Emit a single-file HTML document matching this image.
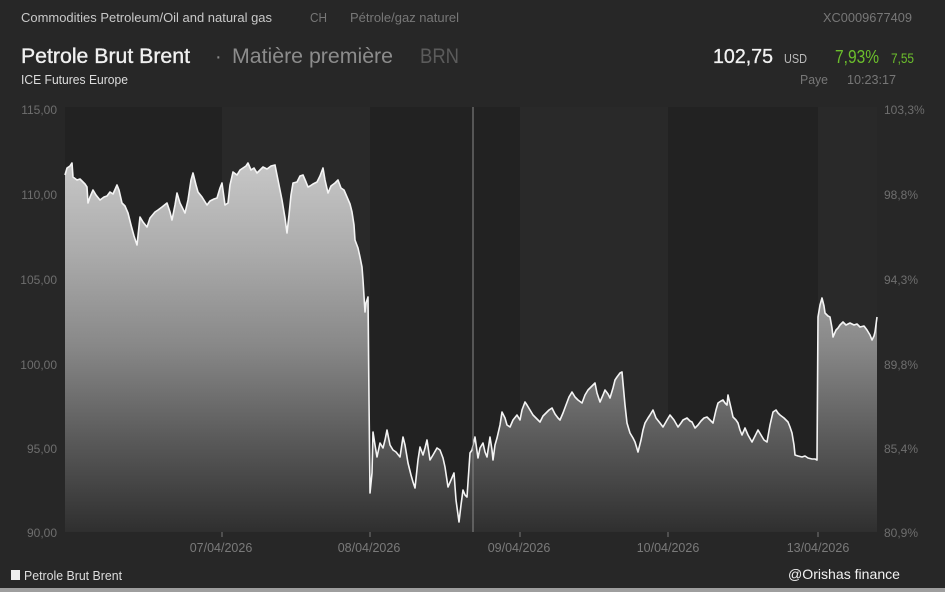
<!DOCTYPE html>
<html>
<head>
<meta charset="utf-8">
<style>
  html,body{margin:0;padding:0;background:#272727;}
  body{width:945px;height:592px;overflow:hidden;}
  svg{display:block;}
  text{font-family:"Liberation Sans",Arial,sans-serif;}
</style>
</head>
<body>
<svg width="945" height="592" viewBox="0 0 945 592" xmlns="http://www.w3.org/2000/svg">
  <defs>
    <linearGradient id="fillg" gradientUnits="userSpaceOnUse" x1="0" y1="160" x2="0" y2="532">
      <stop offset="0" stop-color="#c8c8c8"/>
      <stop offset="0.25" stop-color="#ababab"/>
      <stop offset="0.5" stop-color="#888888"/>
      <stop offset="0.75" stop-color="#5a5a5a"/>
      <stop offset="1" stop-color="#2f2f2f"/>
    </linearGradient>
  </defs>
  <rect x="0" y="0" width="945" height="592" fill="#272727"/>

  <!-- day bands -->
  <rect x="65" y="107" width="157" height="425" fill="#222222"/>
  <rect x="222" y="107" width="148" height="425" fill="#292929"/>
  <rect x="370" y="107" width="150" height="425" fill="#222222"/>
  <rect x="520" y="107" width="148" height="425" fill="#292929"/>
  <rect x="668" y="107" width="150" height="425" fill="#222222"/>
  <rect x="818" y="107" width="59" height="425" fill="#292929"/>

  <!-- area fill -->
  <polygon fill="url(#fillg)" points="65,532 65,175 67,168 70,166 72,163 73,177 77,180 80,179 83,182 85,184 87,187 88,203 90,197 93,190 96,195 100,200 104,197 107,196 110,192 113,194 117,185 119,190 122,203 125,206 128,213 131,225 134,236 137,245 140,217 143,222 147,227 150,218 155,212 158,210 162,207 167,203 170,212 172,220 175,205 177,193 180,203 185,213 188,200 191,180 193,173 196,185 198,192 202,197 207,205 210,201 214,199 217,198 220,188 222,183 225,205 228,203 230,185 233,172 237,175 240,170 243,168 246,166 248,163 251,170 254,168 257,173 260,170 263,167 267,169 271,166 275,165 278,180 280,190 282,200 285,218 287,233 289,215 291,195 293,183 297,182 300,176 303,175 306,182 308,187 310,186 313,184 317,182 320,176 323,168 325,180 328,193 331,186 335,183 338,180 341,188 344,190 347,197 350,204 352,212 354,225 355,240 358,248 360,257 362,267 363,280 365,312 366,303 368,297 369,400 370,493 372,473 373,432 375,445 377,457 380,443 383,448 385,440 387,430 390,445 393,450 396,452 400,457 403,437 405,445 408,463 411,475 413,482 415,488 418,460 420,447 423,455 425,448 427,440 430,460 433,455 437,448 440,450 443,458 445,467 448,487 451,480 454,473 456,500 459,522 461,505 463,490 465,495 467,497 470,453 472,450 475,437 478,458 480,448 483,443 485,452 487,457 490,437 492,450 493,460 495,445 497,438 500,425 502,412 505,418 507,425 510,427 513,420 517,415 520,420 522,410 525,402 527,405 530,410 533,415 536,418 540,422 543,416 546,413 549,410 552,408 555,414 558,418 560,420 563,413 566,405 569,397 572,392 575,397 578,400 582,403 585,395 588,390 592,386 595,383 597,393 600,402 603,395 605,390 608,394 610,398 613,388 615,380 617,377 620,373 622,372 623,383 625,405 627,423 630,433 633,438 635,442 638,452 641,440 643,430 645,423 648,418 650,415 653,410 656,418 660,423 663,427 667,420 670,415 674,420 678,427 681,423 683,420 687,418 690,421 692,422 695,428 698,425 701,421 704,418 707,417 710,420 713,423 716,410 718,403 721,401 723,400 725,403 727,405 728,395 731,408 733,417 736,420 738,423 740,430 742,435 745,428 748,435 752,442 755,436 758,430 761,435 764,440 767,442 770,425 773,412 776,410 778,413 780,415 784,418 788,422 790,427 792,433 794,445 795,455 798,456 802,457 805,456 808,458 812,459 815,459 817,460 818,317 820,305 822,298 824,306 825,313 828,316 830,317 832,328 833,337 836,330 838,328 840,325 843,322 846,325 850,323 854,325 857,324 860,327 864,326 867,330 870,335 872,340 874,336 875,332 877,317 877,532"/>

  <!-- line -->
  <polyline fill="none" stroke="#f4f4f4" stroke-width="1.6" stroke-linejoin="round" points="65,175 67,168 70,166 72,163 73,177 77,180 80,179 83,182 85,184 87,187 88,203 90,197 93,190 96,195 100,200 104,197 107,196 110,192 113,194 117,185 119,190 122,203 125,206 128,213 131,225 134,236 137,245 140,217 143,222 147,227 150,218 155,212 158,210 162,207 167,203 170,212 172,220 175,205 177,193 180,203 185,213 188,200 191,180 193,173 196,185 198,192 202,197 207,205 210,201 214,199 217,198 220,188 222,183 225,205 228,203 230,185 233,172 237,175 240,170 243,168 246,166 248,163 251,170 254,168 257,173 260,170 263,167 267,169 271,166 275,165 278,180 280,190 282,200 285,218 287,233 289,215 291,195 293,183 297,182 300,176 303,175 306,182 308,187 310,186 313,184 317,182 320,176 323,168 325,180 328,193 331,186 335,183 338,180 341,188 344,190 347,197 350,204 352,212 354,225 355,240 358,248 360,257 362,267 363,280 365,312 366,303 368,297 369,400 370,493 372,473 373,432 375,445 377,457 380,443 383,448 385,440 387,430 390,445 393,450 396,452 400,457 403,437 405,445 408,463 411,475 413,482 415,488 418,460 420,447 423,455 425,448 427,440 430,460 433,455 437,448 440,450 443,458 445,467 448,487 451,480 454,473 456,500 459,522 461,505 463,490 465,495 467,497 470,453 472,450 475,437 478,458 480,448 483,443 485,452 487,457 490,437 492,450 493,460 495,445 497,438 500,425 502,412 505,418 507,425 510,427 513,420 517,415 520,420 522,410 525,402 527,405 530,410 533,415 536,418 540,422 543,416 546,413 549,410 552,408 555,414 558,418 560,420 563,413 566,405 569,397 572,392 575,397 578,400 582,403 585,395 588,390 592,386 595,383 597,393 600,402 603,395 605,390 608,394 610,398 613,388 615,380 617,377 620,373 622,372 623,383 625,405 627,423 630,433 633,438 635,442 638,452 641,440 643,430 645,423 648,418 650,415 653,410 656,418 660,423 663,427 667,420 670,415 674,420 678,427 681,423 683,420 687,418 690,421 692,422 695,428 698,425 701,421 704,418 707,417 710,420 713,423 716,410 718,403 721,401 723,400 725,403 727,405 728,395 731,408 733,417 736,420 738,423 740,430 742,435 745,428 748,435 752,442 755,436 758,430 761,435 764,440 767,442 770,425 773,412 776,410 778,413 780,415 784,418 788,422 790,427 792,433 794,445 795,455 798,456 802,457 805,456 808,458 812,459 815,459 817,460 818,317 820,305 822,298 824,306 825,313 828,316 830,317 832,328 833,337 836,330 838,328 840,325 843,322 846,325 850,323 854,325 857,324 860,327 864,326 867,330 870,335 872,340 874,336 875,332 877,317"/>

  <!-- cursor line -->
  <line x1="473" y1="107" x2="473" y2="532" stroke="#8a8a8a" stroke-width="1"/>

  <!-- x ticks -->
  <g stroke="#777" stroke-width="1">
    <line x1="222" y1="532" x2="222" y2="537"/>
    <line x1="370" y1="532" x2="370" y2="537"/>
    <line x1="520" y1="532" x2="520" y2="537"/>
    <line x1="668" y1="532" x2="668" y2="537"/>
    <line x1="818" y1="532" x2="818" y2="537"/>
  </g>

  <!-- left y labels -->
  <g fill="#6e6e6e" font-size="12" text-anchor="end">
    <text x="57" y="114">115,00</text>
    <text x="57" y="199">110,00</text>
    <text x="57" y="284">105,00</text>
    <text x="57" y="369">100,00</text>
    <text x="57" y="453">95,00</text>
    <text x="57" y="537">90,00</text>
  </g>
  <!-- right y labels -->
  <g fill="#6e6e6e" font-size="12">
    <text x="884" y="114">103,3%</text>
    <text x="884" y="199">98,8%</text>
    <text x="884" y="284">94,3%</text>
    <text x="884" y="369">89,8%</text>
    <text x="884" y="453">85,4%</text>
    <text x="884" y="537">80,9%</text>
  </g>

  <!-- x labels -->
  <g fill="#7a7a7a" font-size="12.5" text-anchor="middle">
    <text x="221" y="552">07/04/2026</text>
    <text x="369" y="552">08/04/2026</text>
    <text x="519" y="552">09/04/2026</text>
    <text x="668" y="552">10/04/2026</text>
    <text x="818" y="552">13/04/2026</text>
  </g>

  <!-- header -->
  <text x="21" y="22" font-size="13" fill="#c9c9c9" textLength="251" lengthAdjust="spacingAndGlyphs">Commodities Petroleum/Oil and natural gas</text>
  <text x="310" y="22" font-size="13" fill="#777" textLength="17" lengthAdjust="spacingAndGlyphs">CH</text>
  <text x="350" y="22" font-size="13" fill="#777" textLength="109" lengthAdjust="spacingAndGlyphs">Pétrole/gaz naturel</text>
  <text x="823" y="22" font-size="13" fill="#777" textLength="89" lengthAdjust="spacingAndGlyphs">XC0009677409</text>

  <text x="21" y="63" font-size="21" fill="#f0f0f0" stroke="#f0f0f0" stroke-width="0.35" textLength="169" lengthAdjust="spacingAndGlyphs">Petrole Brut Brent</text>
  <text x="215" y="63" font-size="20" fill="#8a8a8a">·</text>
  <text x="232" y="63" font-size="21" fill="#8c8c8c" textLength="161" lengthAdjust="spacingAndGlyphs">Matière première</text>
  <text x="420" y="63" font-size="21" fill="#5b5b5b" textLength="39" lengthAdjust="spacingAndGlyphs">BRN</text>
  <text x="21" y="84" font-size="13" fill="#dcdcdc" textLength="107" lengthAdjust="spacingAndGlyphs">ICE Futures Europe</text>

  <text x="713" y="63" font-size="20" fill="#f2f2f2" stroke="#f2f2f2" stroke-width="0.3" textLength="60" lengthAdjust="spacingAndGlyphs">102,75</text>
  <text x="784" y="63" font-size="12.5" fill="#bbbbbb" textLength="23" lengthAdjust="spacingAndGlyphs">USD</text>
  <text x="835" y="63" font-size="18" fill="#6cbf2c" textLength="44" lengthAdjust="spacingAndGlyphs">7,93%</text>
  <text x="891" y="63" font-size="14" fill="#6cbf2c" textLength="23" lengthAdjust="spacingAndGlyphs">7,55</text>
  <text x="800" y="84" font-size="13" fill="#777" textLength="28" lengthAdjust="spacingAndGlyphs">Paye</text>
  <text x="847" y="84" font-size="13" fill="#777" textLength="49" lengthAdjust="spacingAndGlyphs">10:23:17</text>

  <!-- legend -->
  <rect x="11" y="570" width="9" height="10" fill="#eeeeee"/>
  <text x="24" y="580" font-size="12.5" fill="#dddddd" textLength="98" lengthAdjust="spacingAndGlyphs">Petrole Brut Brent</text>
  <text x="788" y="579" font-size="14" fill="#f2f2f2" textLength="112" lengthAdjust="spacingAndGlyphs">@Orishas finance</text>

  <!-- bottom strip -->
  <rect x="0" y="588" width="945" height="4" fill="#9e9e9e"/>
</svg>
</body>
</html>
